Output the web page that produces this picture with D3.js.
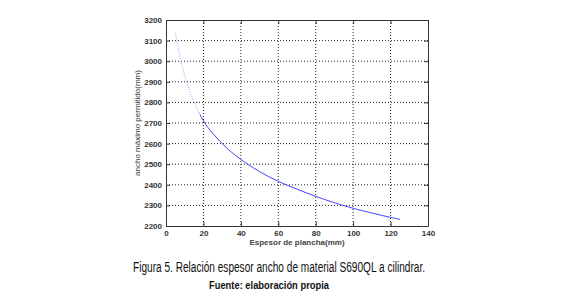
<!DOCTYPE html>
<html lang="en">
<head>
    <meta charset="UTF-8">
    <title>Espesor vs ancho</title>
    <script src="https://d3js.org/d3.v7.js"></script>
    <style>
        body { margin: 0; background: #fff; }
    </style>
</head>
<body>
<svg></svg>
<script>
    {
        // thickness (mm) and max allowed width (mm)
        let espesor = [5, 7.5, 10, 12.5, 15, 17.5, 20, 25, 30, 35, 40, 45, 50, 55, 60,
            65, 70, 75, 80, 85, 90, 95, 100, 105, 110, 115, 120, 125];
        let ancho = [3135, 3020, 2930, 2860, 2800, 2752, 2710, 2650, 2600, 2558, 2523, 2492, 2464, 2439, 2417,
            2397, 2379, 2361, 2344, 2328, 2313, 2299, 2286, 2274, 2263, 2252, 2242, 2232];
        let xTicks = [0, 20, 40, 60, 80, 100, 120, 140];
        let yTicks = [2200, 2300, 2400, 2500, 2600, 2700, 2800, 2900, 3000, 3100, 3200];

        let width = 575;
        let height = 306;
        let left = 166, right = 428, top = 20, bottom = 226;

        let svg = d3.select("svg")
            .attr("width", width)
            .attr("height", height);

        let x = d3.scaleLinear().domain([0, 140]).range([left, right]);
        let y = d3.scaleLinear().domain([2200, 3200]).range([bottom, top]);

        let tickFont = "Liberation Sans, Arial, sans-serif";

        // dotted grid
        let grid = svg.append("g");
        grid.selectAll(".gx").data(xTicks.slice(1, -1)).enter().append("line")
            .attr("x1", d => x(d)).attr("x2", d => x(d))
            .attr("y1", top).attr("y2", bottom)
            .attr("stroke", "#222").attr("stroke-width", 1)
            .attr("stroke-dasharray", "1,2");
        grid.selectAll(".gy").data(yTicks.slice(1, -1)).enter().append("line")
            .attr("x1", left).attr("x2", right)
            .attr("y1", d => y(d)).attr("y2", d => y(d))
            .attr("stroke", "#222").attr("stroke-width", 1)
            .attr("stroke-dasharray", "1,2");

        // axes with inward ticks on all four sides
        let fmt = d3.format("d");
        let axB = d3.axisBottom(x).tickValues(xTicks).tickSizeInner(-4).tickSizeOuter(0).tickPadding(4).tickFormat(fmt);
        let axT = d3.axisTop(x).tickValues(xTicks).tickSizeInner(-4).tickSizeOuter(0).tickFormat("");
        let axL = d3.axisLeft(y).tickValues(yTicks).tickSizeInner(-4).tickSizeOuter(0).tickPadding(4).tickFormat(fmt);
        let axR = d3.axisRight(y).tickValues(yTicks).tickSizeInner(-4).tickSizeOuter(0).tickFormat("");

        let gB = svg.append("g").attr("transform", "translate(0," + bottom + ")").call(axB);
        let gT = svg.append("g").attr("transform", "translate(0," + top + ")").call(axT);
        let gL = svg.append("g").attr("transform", "translate(" + left + ",0)").call(axL);
        let gR = svg.append("g").attr("transform", "translate(" + right + ",0)").call(axR);

        [gB, gT, gL, gR].forEach(g => {
            g.selectAll("path, line").attr("stroke", "#333");
            g.selectAll("text")
                .style("font-family", tickFont)
                .style("font-size", "8px")
                .style("font-weight", "bold")
                .attr("fill", "#333");
        });

        // curve: the steep start looks dotted and pale in the figure,
        // so the same path is drawn twice and clipped at x = 18
        let pts = espesor.map((e, i) => [e, ancho[i]]);
        let line = d3.line().x(d => x(d[0])).y(d => y(d[1])).curve(d3.curveMonotoneX);
        let cut = x(18);
        let defs = svg.append("defs");
        defs.append("clipPath").attr("id", "clipA")
            .append("rect").attr("x", 0).attr("y", 0).attr("width", cut).attr("height", height);
        defs.append("clipPath").attr("id", "clipB")
            .append("rect").attr("x", cut).attr("y", 0).attr("width", width - cut).attr("height", height);

        svg.append("path")
            .attr("d", line(pts))
            .attr("clip-path", "url(#clipA)")
            .attr("fill", "none")
            .attr("stroke", "#9a9cff")
            .attr("stroke-width", 1)
            .attr("stroke-dasharray", "1,1.5");
        svg.append("path")
            .attr("d", line(pts))
            .attr("clip-path", "url(#clipB)")
            .attr("fill", "none")
            .attr("stroke", "#4646ff")
            .attr("stroke-width", 1);

        // axis labels
        svg.append("text")
            .attr("x", (left + right) / 2)
            .attr("y", 245)
            .attr("text-anchor", "middle")
            .style("font-family", tickFont)
            .style("font-size", "8px")
            .style("font-weight", "bold")
            .attr("fill", "#444")
            .text("Espesor de plancha(mm)");

        svg.append("text")
            .attr("transform", "translate(140," + (top + bottom) / 2 + ") rotate(-90)")
            .attr("text-anchor", "middle")
            .style("font-family", tickFont)
            .style("font-size", "8px")
            .attr("fill", "#333")
            .text("ancho máximo permitido(mm)");

        // caption
        svg.append("text")
            .attr("x", 279)
            .attr("y", 272)
            .attr("text-anchor", "middle")
            .style("font-family", "Liberation Sans Narrow, Arial Narrow, sans-serif")
            .style("font-size", "14px")
            .attr("fill", "#111")
            .attr("textLength", 292)
            .attr("lengthAdjust", "spacingAndGlyphs")
            .text("Figura 5. Relación espesor ancho de material S690QL a cilindrar.");

        svg.append("text")
            .attr("x", 269)
            .attr("y", 289)
            .attr("text-anchor", "middle")
            .style("font-family", "Liberation Sans Narrow, Arial Narrow, sans-serif")
            .style("font-size", "10px")
            .style("font-weight", "bold")
            .attr("fill", "#111")
            .attr("textLength", 120)
            .attr("lengthAdjust", "spacingAndGlyphs")
            .text("Fuente: elaboración propia");
    }
</script>
</body>
</html>
